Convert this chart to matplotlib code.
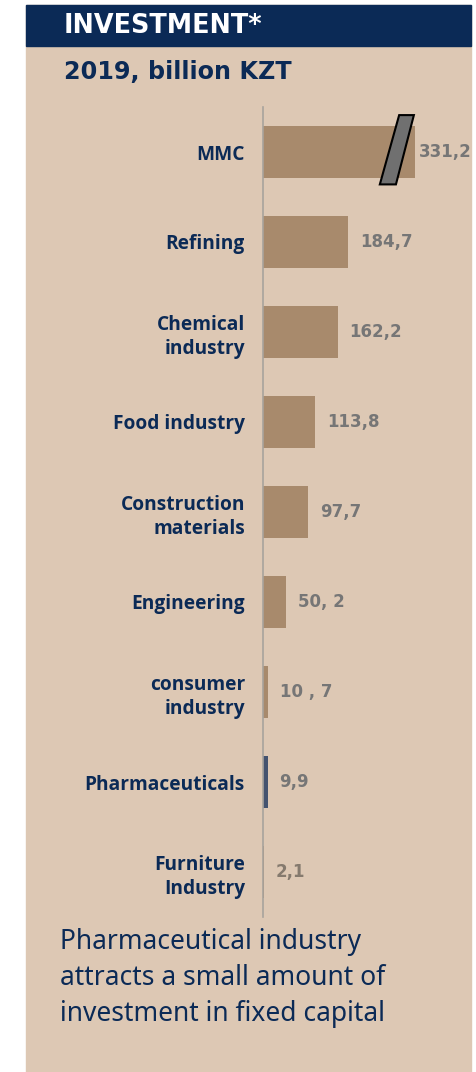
import matplotlib
matplotlib.use("Agg")
import matplotlib.pyplot as plt
from matplotlib.patches import Rectangle, Polygon

W, H = 477, 1072

categories = ["MMC", "Refining", "Chemical\nindustry", "Food industry",
              "Construction\nmaterials", "Engineering", "consumer\nindustry",
              "Pharmaceuticals", "Furniture\nIndustry"]
values = [331.2, 184.7, 162.2, 113.8, 97.7, 50.2, 10.7, 9.9, 2.1]
value_labels = ["331,2", "184,7", "162,2", "113,8", "97,7", "50, 2", "10 , 7", "9,9", "2,1"]
note_lines = ["Pharmaceutical industry", "attracts a small amount of",
              "investment in fixed capital"]

BG = "#DDC8B4"
NAVY = "#0B2A56"
TAN = "#A88A6C"
PHARMA = "#44536F"
GREY = "#767676"


def px(x0, y0, x1, y1):
    """pixel box (top-left origin) -> figure fraction rect"""
    return [x0 / W, 1 - y1 / H, (x1 - x0) / W, (y1 - y0) / H]


fig = plt.figure(figsize=(W / 100, H / 100), dpi=100)
fig.patch.set_facecolor("white")

l, b, w, h = px(26, 5, 471, H)
fig.add_artist(Rectangle((l, b), w, h, transform=fig.transFigure, color=BG, zorder=0))
l, b, w, h = px(26, 5, 471, 46)
fig.add_artist(Rectangle((l, b), w, h, transform=fig.transFigure, color=NAVY, zorder=0))

fig.text(64 / W, 1 - 26 / H, "INVESTMENT*", color="white", fontsize=18.4,
         fontweight="bold", family="DejaVu Sans", va="center", ha="left")
fig.text(64 / W, 1 - 72 / H, "2019, billion KZT", color=NAVY, fontsize=17.2,
         fontweight="bold", family="DejaVu Sans", va="center", ha="left")

ax = fig.add_axes(px(263, 107, 470, 917))
ax.set_facecolor("none")
pos = list(range(len(categories)))
colors = [PHARMA if c == "Pharmaceuticals" else TAN for c in categories]
ax.barh(pos, values, height=0.58, color=colors, zorder=2)
ax.set_xlim(0, 450)
ax.set_ylim(8.5, -0.5)

for s in ["top", "right", "bottom"]:
    ax.spines[s].set_visible(False)
ax.spines["left"].set_color("#A8A39C")
ax.spines["left"].set_linewidth(1.2)
ax.set_xticks([])
ax.set_yticks(pos)
ax.set_yticklabels(categories, family="Open Sans", fontweight="bold",
                   fontsize=13.8, color=NAVY, linespacing=1.3)
ax.tick_params(axis="y", length=0, pad=13)

for p, v, t in zip(pos, values, value_labels):
    c = "#857A6E" if v < 5 else GREY
    off = 8 if v > 300 else 26
    ax.text(v + off, p, t, va="center", ha="left",
            fontsize=12, fontweight="bold", family="DejaVu Sans", color=c, zorder=3)

# break marker on the MMC bar
brk = Polygon([(296, -0.41), (328, -0.41), (289, 0.36), (254, 0.36)],
              closed=True, facecolor="#707070", edgecolor="black", lw=1.5, zorder=3)
ax.add_patch(brk)

for i, line in enumerate(note_lines):
    fig.text(60 / W, 1 - (942 + 36 * i) / H, line,
             family="Noto Sans", fontsize=19, color=NAVY, va="center", ha="left")

fig.savefig("out.png", dpi=100)
